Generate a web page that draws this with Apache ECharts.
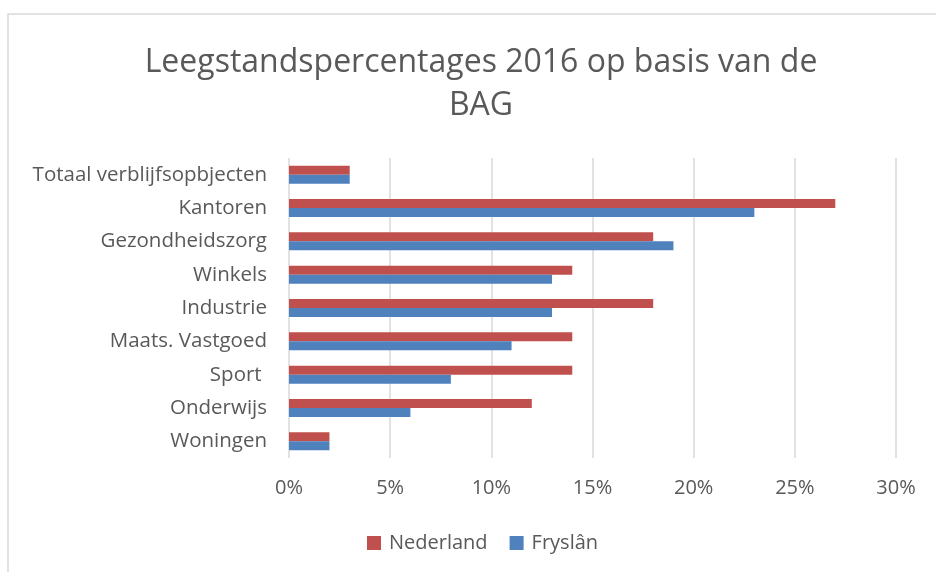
<!DOCTYPE html>
<html>
<head>
<meta charset="utf-8">
<script src="https://cdn.jsdelivr.net/npm/echarts@6/dist/echarts.min.js"></script>
<style>
  html, body { margin: 0; padding: 0; background: #fff; }
  #chart { width: 936px; height: 572px; }
</style>
</head>
<body>
<div id="chart"></div>
<script>
// categories, top to bottom as in the picture
const categories = ['Totaal verblijfsopbjecten', 'Kantoren', 'Gezondheidszorg', 'Winkels',
  'Industrie', 'Maats. Vastgoed', 'Sport ', 'Onderwijs', 'Woningen'];
const nederland = [3, 27, 18, 14, 18, 14, 14, 12, 2];
const fryslan = [3, 23, 19, 13, 13, 11, 8, 6, 2];
const xTicks = [0, 5, 10, 15, 20, 25, 30];

const textColor = '#595959';
const font = 'Open Sans';

const chart = echarts.init(document.getElementById('chart'));
chart.setOption({
  animation: false,
  textStyle: { fontFamily: font },
  // light frame of the chart area (runs off the right and bottom)
  graphic: [{
    type: 'rect',
    shape: { x: 8, y: 14, width: 960, height: 600 },
    style: { fill: 'none', stroke: '#d9d9d9', lineWidth: 1.5 },
    z: -1
  }],
  title: {
    text: 'Leegstandspercentages 2016 op basis van de\nBAG',
    left: 476,
    top: 36,
    textAlign: 'center',
    textStyle: { fontFamily: font, fontWeight: 'normal', fontSize: 32, color: textColor, lineHeight: 43 }
  },
  legend: {
    data: ['Nederland', 'Fryslân'],
    bottom: 14,
    left: 362,
    itemWidth: 14,
    itemHeight: 14,
    itemGap: 22,
    icon: 'rect',
    textStyle: { fontFamily: font, fontSize: 20, color: textColor, padding: [0, 0, 0, 3] }
  },
  grid: { left: 289, right: 40, top: 158, bottom: 114 },
  xAxis: {
    type: 'value',
    min: 0,
    max: 30,
    interval: 5,
    axisLine: { show: false },
    axisTick: { show: false },
    axisLabel: {
      fontFamily: font, fontSize: 20, color: textColor, margin: 20,
      formatter: v => xTicks.includes(v) ? v + '%' : ''
    },
    splitLine: { lineStyle: { color: '#d9d9d9', width: 1.5 } }
  },
  yAxis: {
    type: 'category',
    inverse: true,
    data: categories,
    axisLine: { show: false },
    axisTick: { show: false },
    axisLabel: { fontFamily: font, fontSize: 20.5, color: textColor, margin: 22 }
  },
  series: [
    {
      name: 'Nederland', type: 'bar', data: nederland,
      barGap: '0%', barCategoryGap: '46%',
      itemStyle: { color: '#c0504d' }
    },
    {
      name: 'Fryslân', type: 'bar', data: fryslan,
      itemStyle: { color: '#4f81bd' }
    }
  ]
});
</script>
</body>
</html>
